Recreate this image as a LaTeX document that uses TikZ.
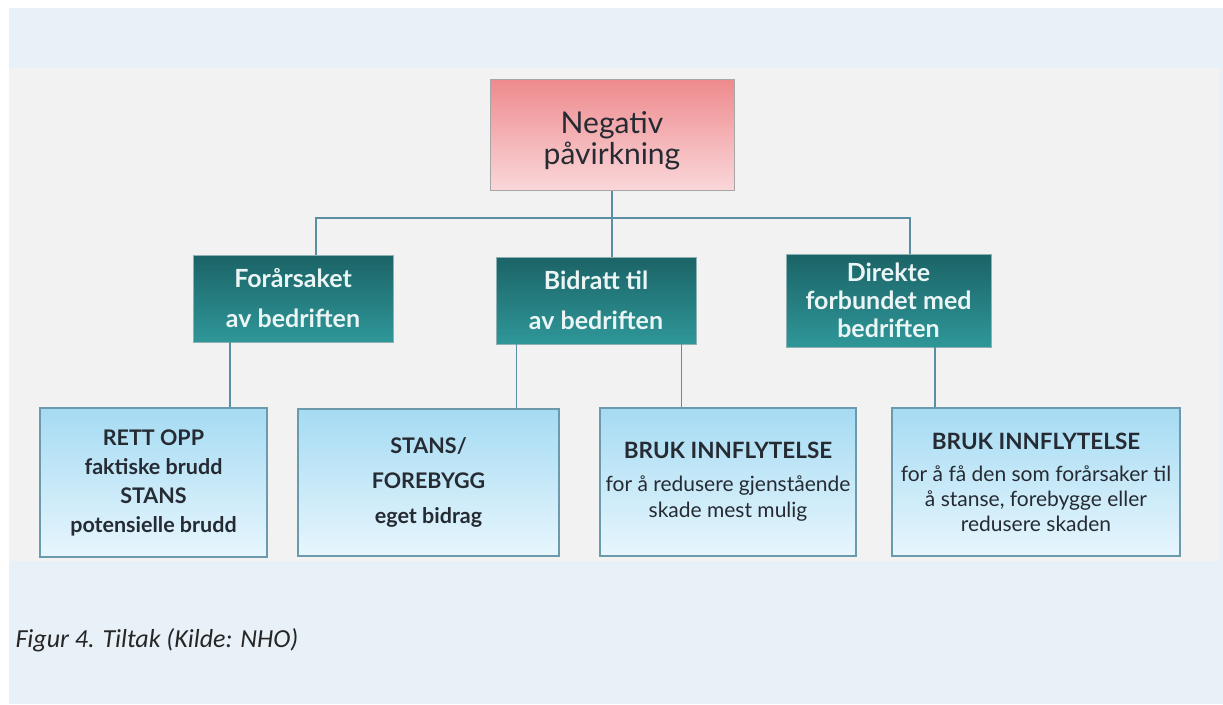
\documentclass[tikz,border=0pt]{standalone}
\usepackage{fontspec}
\setmainfont{Lato}
\newfontfamily\capfont{Carlito}
\usetikzlibrary{positioning}

\definecolor{bgblue}{HTML}{E7F1F7}
\definecolor{bggrey}{HTML}{F2F2F2}
\definecolor{rosetop}{HTML}{EE8A8D}
\definecolor{rosebot}{HTML}{FAD7DA}
\definecolor{tealtop}{HTML}{1B6366}
\definecolor{tealbot}{HTML}{2F9799}
\definecolor{skytop}{HTML}{A5DBF3}
\definecolor{skybot}{HTML}{E7F6FD}
\definecolor{linkblue}{HTML}{5A8FA3}
\definecolor{inkdark}{HTML}{262B33}

\tikzset{
    head/.style={draw=gray!70, line width=1pt, top color=rosetop, bottom color=rosebot,
        minimum width=244pt, minimum height=111pt, align=center, text=inkdark,
        font=\fontsize{30}{31}\selectfont},
    level/.style={draw=tealtop!50, line width=0.8pt, top color=tealtop, bottom color=tealbot,
        minimum height=87pt, align=center, inner sep=2pt, text=white!92!teal,
        font=\fontsize{25}{28}\selectfont\bfseries},
    action/.style={draw=linkblue!90, line width=1.2pt, top color=skytop, bottom color=skybot,
        minimum height=148pt, align=center, inner sep=2pt, text=inkdark},
    link/.style={draw=linkblue, line width=1.8pt},
}

\begin{document}
\begin{tikzpicture}[x=1pt, y=-1pt]
    % bakgrunn
    \useasboundingbox (0,0) rectangle (1223,704);
    \fill[bgblue] (9,8) rectangle (1223,704);
    \fill[bggrey] (9,68) rectangle (1219,561);

    % topp
    \node[head] (neg) at (612,134.5) {\rule{0pt}{34pt}Negativ\\påvirkning};

    % mellomnivå
    \node[level, minimum width=200pt] (cause) at (293,298.5) {Forårsaket\\[12pt]av bedriften};
    \node[level, minimum width=200pt] (contrib) at (596,300.5) {Bidratt til\\[12pt]av bedriften};
    \node[level, minimum width=205pt, minimum height=93pt] (linked) at (888.5,300.5) {Direkte\\forbundet med\\bedriften};

    % tiltak
    \node[action, minimum width=227pt, minimum height=149pt, font=\fontsize{21.5}{29}\selectfont\bfseries]
        (fix) at (153.5,482.5) {RETT OPP\\faktiske brudd\\STANS\\potensielle brudd};
    \node[action, minimum width=261pt, minimum height=147pt, font=\fontsize{21.5}{35}\selectfont\bfseries]
        (stop) at (428.5,482.5) {STANS/\\FOREBYGG\\eget bidrag};
    \node[action, minimum width=256pt, font=\fontsize{21}{26}\selectfont]
        (reduce) at (728,482) {{\fontsize{22.5}{26}\selectfont\bfseries BRUK INNFLYTELSE}\\[7pt]for å redusere gjenstående\\skade mest mulig};
    \node[action, minimum width=288pt, font=\fontsize{21}{25}\selectfont]
        (press) at (1036,482) {{\fontsize{22.5}{25}\selectfont\bfseries BRUK INNFLYTELSE}\\[7pt]for å få den som forårsaker til\\å stanse, forebygge eller\\redusere skaden};

    % linjer
    \coordinate (bar) at (612,218);
    \coordinate (bl) at (316,218);
    \coordinate (br) at (910,218);
    \draw[link] (neg) -- (bar);
    \draw[link] (bl |- cause.north) -- (bl) -- (br) -- (br |- linked.north);
    \draw[link] (bar) -- (bar |- contrib.north);

    \coordinate (d1) at (230,0);
    \coordinate (d2) at (516.5,0);
    \coordinate (d3) at (681.5,0);
    \coordinate (d4) at (935,0);
    \draw[link] (d1 |- cause.south) -- (d1 |- fix.north);
    \draw[link] (d2 |- contrib.south) -- (d2 |- stop.north);
    \draw[link] (d3 |- contrib.south) -- (d3 |- reduce.north);
    \draw[link] (d4 |- linked.south) -- (d4 |- press.north);

    % figurtekst
    \node[anchor=base west, text=black!85, font=\capfont\itshape\fontsize{26}{30}\selectfont]
        (caption) at (12,647) {Figur 4. Tiltak (Kilde: NHO)};
\end{tikzpicture}
\end{document}
